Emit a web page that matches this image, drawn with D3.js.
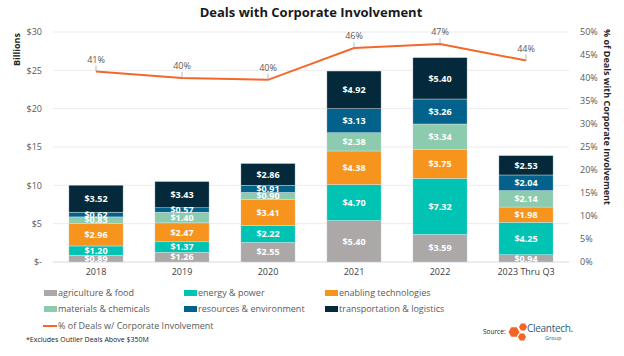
<!DOCTYPE html>
<html><head><meta charset="utf-8">
<script src="https://cdn.jsdelivr.net/npm/d3@7"></script>
<style>
html,body{margin:0;padding:0;background:#fff;}
svg{display:block;font-family:"Open Sans",sans-serif;}
</style></head>
<body>
<svg id="chart" width="624" height="356"></svg>
<script>
const years = ["2018","2019","2020","2021","2022","2023 Thru Q3"];
const agriculture = [0.89,1.26,2.55,5.40,3.59,0.94];
const energy = [1.20,1.37,2.22,4.70,7.32,4.25];
const enabling = [2.96,2.47,3.41,4.38,3.75,1.98];
const materials = [0.83,1.40,0.90,2.38,3.34,2.14];
const resources = [0.62,0.57,0.91,3.13,3.26,2.04];
const transport = [3.52,3.43,2.86,4.92,5.40,2.53];
const pctCorporate = [0.414,0.400,0.396,0.465,0.474,0.438];
const pctLabels = ["41%","40%","40%","46%","47%","44%"];
const seriesNames = ["agriculture & food","energy & power","enabling technologies","materials & chemicals","resources & environment","transportation & logistics"];
const seriesColors = ["#aca8a8","#00c3b4","#f7941d","#8dcbae","#03628b","#03293a"];
const leftTicks = [0,5,10,15,20,25,30];
const rightTicks = [0,0.05,0.1,0.15,0.2,0.25,0.3,0.35,0.4,0.45,0.5];

(function(){
const seriesData = [agriculture,energy,enabling,materials,resources,transport];
const rows = years.map((yr,i)=>{const r={year:yr}; seriesNames.forEach((n,k)=>r[n]=seriesData[k][i]); return r;});

const svg = d3.select("#chart");
const pL=53, pR=569, pT=32, pB=262;
const x = d3.scaleBand().domain(years).range([pL,pR]).paddingInner(0.37).paddingOuter(0.185);
const y = d3.scaleLinear().domain([0,30]).range([pB,pT]);
const y2 = d3.scaleLinear().domain([0,0.5]).range([pB,pT]);

// title
svg.append("text").attr("x",311).attr("y",17).attr("text-anchor","middle")
  .attr("font-size",13).attr("font-weight",700).attr("fill","#1a1a1a").text("Deals with Corporate Involvement");

// gridlines
svg.append("g").selectAll("line").data(leftTicks).join("line")
  .attr("x1",pL).attr("x2",pR).attr("y1",d=>y(d)).attr("y2",d=>y(d))
  .attr("stroke",d=>d===0?"#d9d9d9":"#ececec").attr("stroke-width",1);

// left axis
const ax = svg.append("g").attr("transform",`translate(${pL-8},0)`)
  .call(d3.axisLeft(y).tickValues(leftTicks).tickSize(0).tickFormat(d=>d===0?"$-":"$"+d));
ax.select(".domain").remove();
ax.selectAll("text").attr("font-size",9).attr("fill","#595959").attr("font-family","Open Sans");

// right axis
const ax2 = svg.append("g").attr("transform",`translate(${pR+8},0)`)
  .call(d3.axisRight(y2).tickValues(rightTicks).tickSize(0).tickFormat(d3.format(".0%")));
ax2.select(".domain").remove();
ax2.selectAll("text").attr("font-size",9).attr("fill","#595959").attr("font-family","Open Sans");

// x axis
const ax3 = svg.append("g").attr("transform",`translate(0,${pB+4})`)
  .call(d3.axisBottom(x).tickSize(0));
ax3.select(".domain").remove();
ax3.selectAll("text").attr("font-size",9).attr("fill","#404040").attr("font-family","Open Sans");

// axis titles
svg.append("text").attr("transform",`translate(20,33) rotate(-90)`).attr("text-anchor","end")
  .attr("font-size",9).attr("font-weight",700).attr("fill","#262626").text("Billions");
svg.append("text").attr("transform",`translate(604,29) rotate(90)`).attr("text-anchor","start")
  .attr("font-size",9).attr("font-weight",700).attr("fill","#262626").text("% of Deals with Corporate Involvement");

// stacked bars
const stack = d3.stack().keys(seriesNames)(rows);
const color = d3.scaleOrdinal().domain(seriesNames).range(seriesColors);
const gBars = svg.append("g");
stack.forEach(layer=>{
  gBars.append("g").selectAll("rect").data(layer).join("rect")
    .attr("x",d=>x(d.data.year)).attr("width",x.bandwidth())
    .attr("y",d=>y(d[1])).attr("height",d=>y(d[0])-y(d[1]))
    .attr("fill",color(layer.key)).attr("stroke","#dfe6ea").attr("stroke-width",0.4);
});
stack.forEach(layer=>{
  gBars.append("g").selectAll("text").data(layer).join("text")
    .attr("x",d=>x(d.data.year)+x.bandwidth()/2)
    .attr("y",d=>(y(d[0])+y(d[1]))/2)
    .attr("dy","0.36em").attr("text-anchor","middle")
    .attr("font-size",9).attr("font-weight",700).attr("fill","#fff")
    .text(d=>"$"+(d[1]-d[0]).toFixed(2));
});

// line
const line = d3.line().x((d,i)=>x(years[i])+x.bandwidth()/2).y(d=>y2(d));
svg.append("path").datum(pctCorporate).attr("d",line).attr("fill","none")
  .attr("stroke","#f4672a").attr("stroke-width",2);
const lg = svg.append("g");
pctCorporate.forEach((v,i)=>{
  const cx = x(years[i])+x.bandwidth()/2, cy=y2(v);
  lg.append("line").attr("x1",cx).attr("x2",cx).attr("y1",cy).attr("y2",cy-6).attr("stroke","#a6a6a6").attr("stroke-width",0.8);
  lg.append("text").attr("x",cx).attr("y",cy-9).attr("text-anchor","middle")
    .attr("font-size",9).attr("fill","#595959").text(pctLabels[i]);
});

// legend
const legX=[44,184,325], legY=[293,309];
const leg = svg.append("g");
seriesNames.forEach((n,k)=>{
  const cx=legX[k%3], cy=legY[Math.floor(k/3)];
  leg.append("rect").attr("x",cx).attr("y",cy-3).attr("width",13).attr("height",6).attr("fill",seriesColors[k]);
  leg.append("text").attr("x",cx+14).attr("y",cy).attr("dy","0.35em").attr("font-size",9).attr("fill","#595959").text(n);
});
leg.append("line").attr("x1",43).attr("x2",57).attr("y1",326).attr("y2",326).attr("stroke","#f4672a").attr("stroke-width",2);
leg.append("text").attr("x",58).attr("y",326).attr("dy","0.35em").attr("font-size",9).attr("fill","#595959").text("% of Deals w/ Corporate Involvement");

// footnote
svg.append("text").attr("x",26).attr("y",342).attr("font-size",7).attr("fill","#1a1a1a").text("*Excludes Outlier Deals Above $350M");

// source + logo
svg.append("text").attr("x",483).attr("y",334).attr("font-size",6.5).attr("fill","#1a1a1a").text("Source:");
const hex = (cx,cy,r)=>d3.range(6).map(i=>{const a=Math.PI/3*i;return [cx+r*Math.cos(a),cy+r*Math.sin(a)];});
const logo = svg.append("g");
[[514,332,5.5],[523,327,4],[522,337,4]].forEach(h=>{
  logo.append("polygon").attr("points",hex(...h).map(p=>p.join(",")).join(" ")).attr("fill","#f26522");
});
svg.append("text").attr("x",527).attr("y",332).attr("font-size",10).attr("letter-spacing",-0.3).attr("fill","#2c5a7a").text("Cleantech.");
svg.append("text").attr("x",545).attr("y",339.5).attr("font-size",5.5).attr("fill","#2c5a7a").text("Group");
})();
</script>
</body></html>
